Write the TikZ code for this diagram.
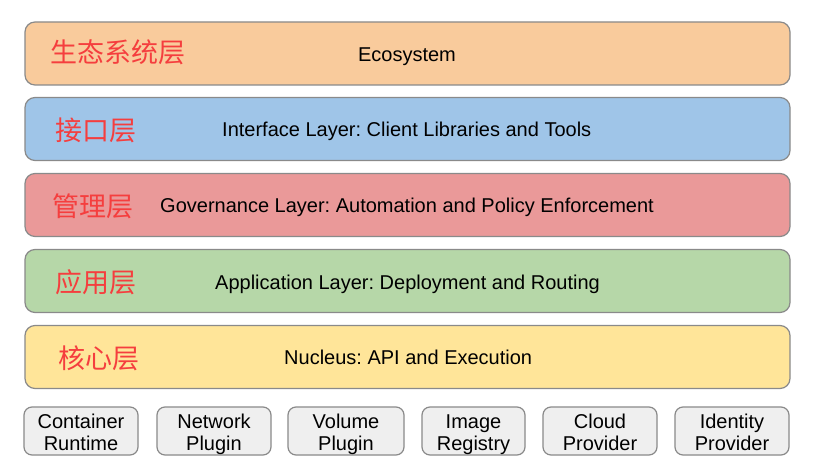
\documentclass[tikz,border=0pt]{standalone}
\usepackage{fontspec}
\setmainfont{Liberation Sans}
\newfontfamily\cjk{Noto Sans CJK SC}
\definecolor{eco}{HTML}{F9CB9C}
\definecolor{ifc}{HTML}{9FC5E8}
\definecolor{gov}{HTML}{EA9999}
\definecolor{app}{HTML}{B6D7A8}
\definecolor{nuc}{HTML}{FFE599}
\definecolor{compgray}{HTML}{EFEFEF}
\definecolor{bordergray}{HTML}{8A8A8A}
\definecolor{cnred}{HTML}{F53E3E}
\frenchspacing
\begin{document}
\begin{tikzpicture}[x=1pt,y=-1pt,
  layer/.style={draw=bordergray, line width=1.2pt, rounded corners=10pt, minimum width=765pt, minimum height=63pt, inner sep=0pt},
  comp/.style={draw=bordergray, line width=1.2pt, rounded corners=8pt, fill=compgray, minimum height=48pt, inner sep=0pt},
  comptext/.style={align=center, inner sep=0pt, font=\fontsize{20}{22}\selectfont},
  cn/.style={text=cnred, font=\cjk\fontsize{27}{30}\selectfont, anchor=west, inner sep=0pt},
  en/.style={font=\fontsize{20}{22}\selectfont, anchor=base west, inner sep=0pt}]
\useasboundingbox (0,0) rectangle (822,473);
\fill[white] (0,0) rectangle (822,473);
% layers
\node[layer, fill=eco] (eco) at (407.5,53.5) {};
\node[layer, fill=ifc] (ifc) at (407.5,129) {};
\node[layer, fill=gov] (gov) at (407.5,205) {};
\node[layer, fill=app] (app) at (407.5,281) {};
\node[layer, fill=nuc] (nuc) at (407.5,357) {};
% chinese labels
\node[cn] (ecocn) at (50,52) {生态系统层};
\node[cn] (ifccn) at (55,130) {接口层};
\node[cn] (govcn) at (52,206) {管理层};
\node[cn] (appcn) at (55,282) {应用层};
\node[cn] (nuccn) at (58,358) {核心层};
% english labels
\node[en, anchor=base] (ecoen) at (407,61.5) {Ecosystem};
\node[en] (ifcen) at (222,137) {Interface Layer: Client Libraries and Tools};
\node[en] (goven) at (160,213) {Governance Layer: Automation and Policy Enforcement};
\node[en] (appen) at (215,289) {Application Layer: Deployment and Routing};
\node[en] (nucen) at (284,364) {Nucleus: API and Execution};
% components
\node[comp, minimum width=114pt] (c1) at (81,431) {};
\node[comp, minimum width=114pt] (c2) at (214,431) {};
\node[comp, minimum width=116pt] (c3) at (346,431) {};
\node[comp, minimum width=103pt] (c4) at (473.5,431) {};
\node[comp, minimum width=114pt] (c5) at (600,431) {};
\node[comp, minimum width=114pt] (c6) at (732,431) {};
\node[comptext] (t1) at ([yshift=-3.6pt]c1.center) {Container\strut\\Runtime\strut};
\node[comptext] (t2) at ([yshift=-3.6pt]c2.center) {Network\strut\\Plugin\strut};
\node[comptext] (t3) at ([yshift=-3.6pt]c3.center) {Volume\strut\\Plugin\strut};
\node[comptext] (t4) at ([yshift=-3.6pt]c4.center) {Image\strut\\Registry\strut};
\node[comptext] (t5) at ([yshift=-3.6pt]c5.center) {Cloud\strut\\Provider\strut};
\node[comptext] (t6) at ([yshift=-3.6pt]c6.center) {Identity\strut\\Provider\strut};
\end{tikzpicture}
\end{document}
